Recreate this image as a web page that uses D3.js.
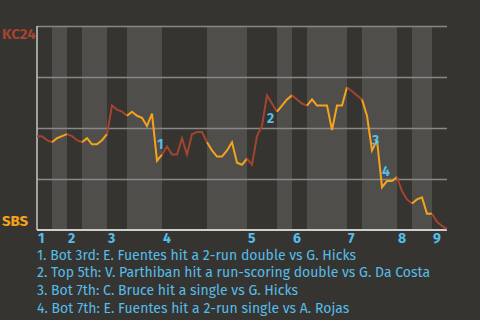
<!DOCTYPE html>
<html>
<head>
<meta charset="utf-8">
<script src="https://cdn.jsdelivr.net/npm/d3@7"></script>
<style>
  body { margin: 0; background: #363431; }
  svg { display: block; font-family: "Fira Sans", "Open Sans", sans-serif; }
</style>
</head>
<body>
<div class="chart"></div>
<script>
// data
const teams = ["KC24", "SBS"];
// win probability for KC24, one value per play
const winProb = [
  0.46, 0.46, 0.44, 0.43, 0.45, 0.46, 0.47, 0.46, 0.44, 0.43,
  0.45, 0.42, 0.42, 0.44, 0.47, 0.61, 0.59, 0.58, 0.56, 0.58,
  0.56, 0.55, 0.51, 0.57, 0.34, 0.37, 0.41, 0.37, 0.37, 0.45,
  0.37, 0.47, 0.48, 0.48, 0.43, 0.39, 0.36, 0.36, 0.39, 0.43,
  0.33, 0.32, 0.35, 0.32, 0.46, 0.51, 0.66, 0.62, 0.58, 0.61,
  0.64, 0.66, 0.64, 0.62, 0.61, 0.64, 0.61, 0.61, 0.61, 0.49,
  0.61, 0.61, 0.70, 0.68, 0.66, 0.64, 0.56, 0.39, 0.44, 0.21,
  0.24, 0.24, 0.26, 0.19, 0.15, 0.13, 0.15, 0.16, 0.08, 0.08,
  0.04, 0.02, 0.005
];
// play index where each half inning starts (last value = end of game)
const halfStarts = [0, 3, 6, 9, 14, 18, 25, 34, 42, 48, 51, 54, 62, 65, 72, 75, 79, 82];
const innings = [1, 2, 3, 4, 5, 6, 7, 8, 9];
// key plays: index of the play that ended the swing
const eventPlays = [24, 46, 67, 69];
const eventNotes = [
  "1. Bot 3rd: E. Fuentes hit a 2-run double vs G. Hicks",
  "2. Top 5th: V. Parthiban hit a run-scoring double vs G. Da Costa",
  "3. Bot 7th: C. Bruce hit a single vs G. Hicks",
  "4. Bot 7th: E. Fuentes hit a 2-run single vs A. Rojas"
];

const awayColor = "#a3442f", homeColor = "#f5a31b", blue = "#55bde9";

const margin = ({top: 26, right: 33, bottom: 90, left: 37});
const width = 480 - margin.left - margin.right,
    height = 320 - margin.top - margin.bottom;

const svg = d3.select(".chart").append("svg")
    .attr("width", 480)
    .attr("height", 320)
    .append("g")
    .attr("transform", "translate(" + margin.left + "," + margin.top + ")");

const x = d3.scaleLinear().domain([0, winProb.length - 1]).range([0, width]);
const y = d3.scaleLinear().domain([0, 1]).range([height, 0]);

// half inning stripes
svg.selectAll(".stripe")
    .data(halfStarts.slice(0, -1))
  .enter().append("rect")
    .attr("x", (d) => x(d))
    .attr("y", 0)
    .attr("width", (d, i) => x(halfStarts[i + 1]) - x(d))
    .attr("height", height)
    .attr("fill", (d, i) => i % 2 ? "#4f4e4b" : "#363431");

// grid
svg.append("g")
    .call(d3.axisLeft(y).tickValues([0.25, 0.5, 0.75, 1]).tickSize(-width).tickFormat(""))
    .call(g => g.select(".domain").remove())
    .call(g => g.selectAll("line").attr("stroke", "#8a8886").attr("stroke-width", 1.5));

svg.append("line")
    .attr("x1", 0).attr("x2", 0).attr("y1", 0).attr("y2", height)
    .attr("stroke", "#c8c6c2").attr("stroke-width", 1.5);
svg.append("line")
    .attr("x1", 0).attr("x2", width).attr("y1", height).attr("y2", height)
    .attr("stroke", "#d0ceca").attr("stroke-width", 2);

// line, one piece per half inning
const line = d3.line().x((d) => x(d[0])).y((d) => y(d[1]));
halfStarts.slice(0, -1).forEach((s, i) => {
  const pts = d3.range(s, halfStarts[i + 1] + 1).map(j => [j, winProb[j]]);
  svg.append("path")
      .datum(pts)
      .attr("fill", "none")
      .attr("stroke", i % 2 ? homeColor : awayColor)
      .attr("stroke-width", 2)
      .attr("d", line);
});

// event numbers
svg.selectAll(".event")
    .data(eventPlays)
  .enter().append("text")
    .attr("x", (d) => (x(d - 1) + x(d)) / 2 + 2.5)
    .attr("y", (d) => (y(winProb[d - 1]) + y(winProb[d])) / 2 + 12)
    .attr("fill", blue)
    .attr("font-size", 14)
    .attr("font-weight", "bold")
    .text((d, i) => i + 1);

// inning labels
svg.selectAll(".inning")
    .data(innings)
  .enter().append("text")
    .attr("x", (d) => x(halfStarts[(d - 1) * 2]) + 1)
    .attr("y", height + 13)
    .attr("fill", blue)
    .attr("font-size", 14)
    .attr("font-weight", "bold")
    .text((d) => d);

// team labels
svg.append("text")
    .attr("x", -35).attr("y", 12.5)
    .attr("fill", awayColor).attr("font-size", 15).attr("font-weight", "bold")
    .text(teams[0]);
svg.append("text")
    .attr("x", -35).attr("y", height - 4)
    .attr("fill", homeColor).attr("font-size", 15).attr("font-weight", "bold")
    .text(teams[1]);

// notes
svg.selectAll(".note")
    .data(eventNotes)
  .enter().append("text")
    .attr("x", 0)
    .attr("y", (d, i) => height + 29.5 + i * 17.8)
    .attr("fill", blue)
    .attr("font-size", 14)
    .text((d) => d);
</script>
</body>
</html>
